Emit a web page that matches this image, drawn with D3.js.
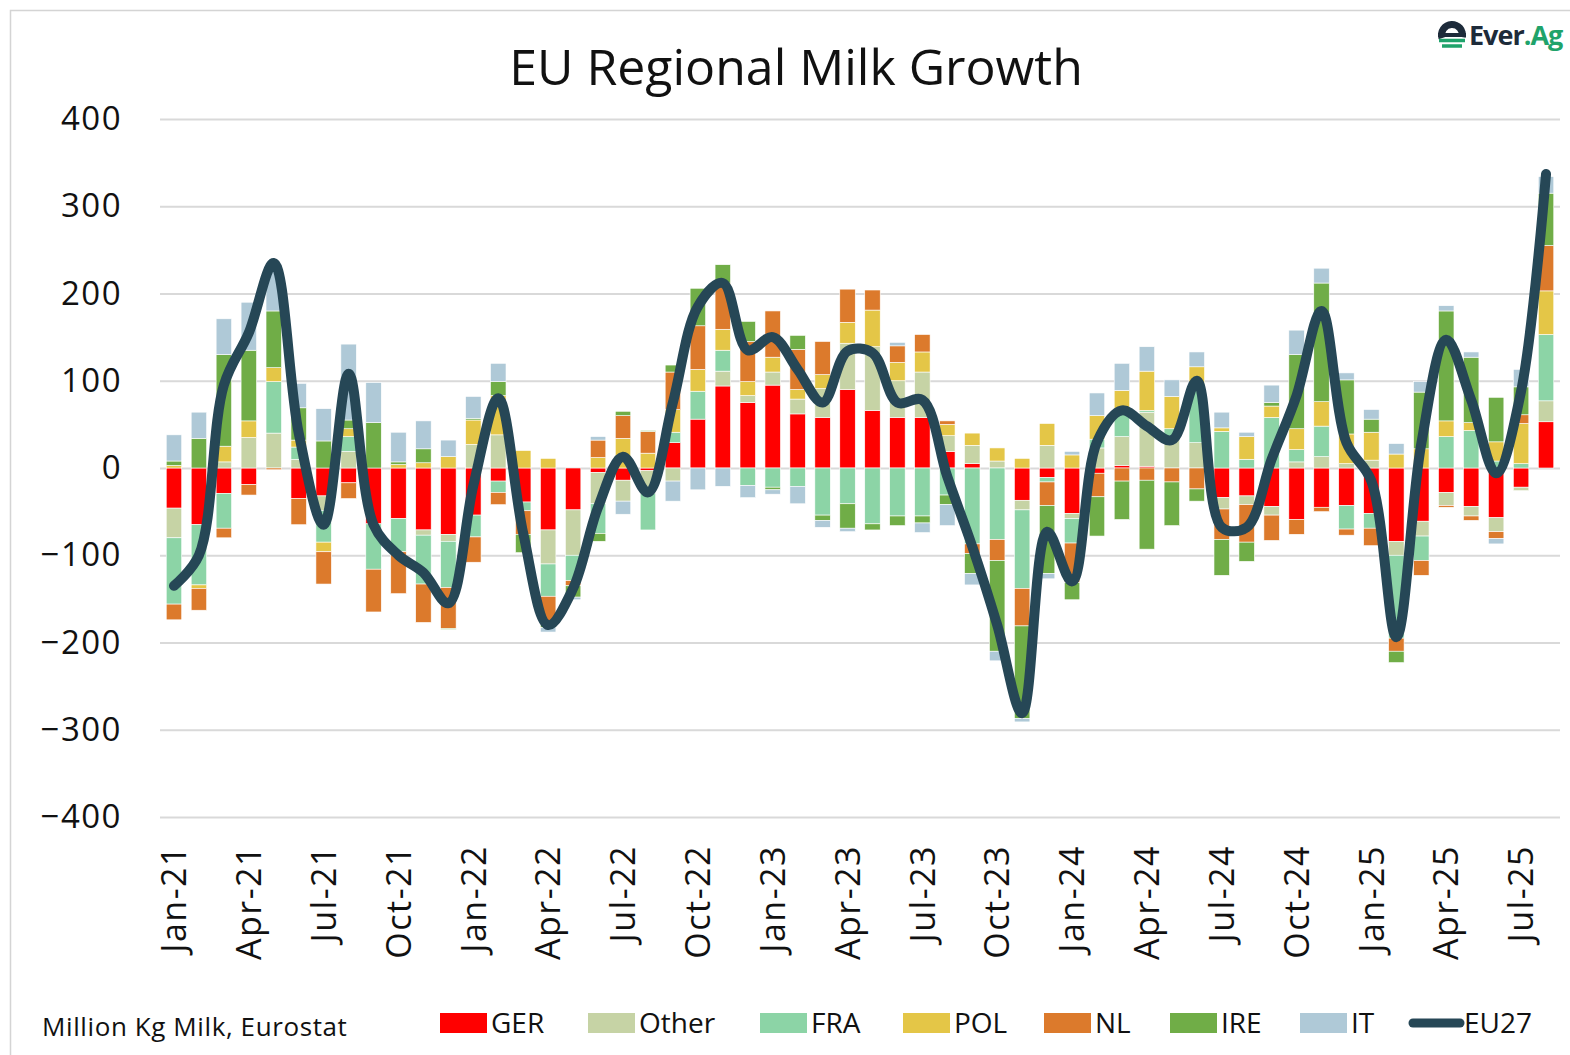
<!DOCTYPE html>
<html>

<head>
    <meta charset='utf-8'>
</head>
<style>
    body {
        margin: 0;
        background: #fff;
    }
    * {
        font-family: 'Open Sans', sans-serif;
    }
</style>

<body>
    <svg width="1570" height="1055"></svg>
    <script src="https://d3js.org/d3.v7.min.js"></script>
    <script>
        // months on the x axis
        var months = ["Jan-21", "Feb-21", "Mar-21", "Apr-21", "May-21", "Jun-21", "Jul-21", "Aug-21", "Sep-21", "Oct-21", "Nov-21", "Dec-21",
            "Jan-22", "Feb-22", "Mar-22", "Apr-22", "May-22", "Jun-22", "Jul-22", "Aug-22", "Sep-22", "Oct-22", "Nov-22", "Dec-22",
            "Jan-23", "Feb-23", "Mar-23", "Apr-23", "May-23", "Jun-23", "Jul-23", "Aug-23", "Sep-23", "Oct-23", "Nov-23", "Dec-23",
            "Jan-24", "Feb-24", "Mar-24", "Apr-24", "May-24", "Jun-24", "Jul-24", "Aug-24", "Sep-24", "Oct-24", "Nov-24", "Dec-24",
            "Jan-25", "Feb-25", "Mar-25", "Apr-25", "May-25", "Jun-25", "Jul-25", "Aug-25"
        ];
        var tickMonths = ["Jan-21", "Apr-21", "Jul-21", "Oct-21", "Jan-22", "Apr-22", "Jul-22", "Oct-22", "Jan-23", "Apr-23",
            "Jul-23", "Oct-23", "Jan-24", "Apr-24", "Jul-24", "Oct-24", "Jan-25", "Apr-25", "Jul-25"
        ];
        var yTicks = [-400, -300, -200, -100, 0, 100, 200, 300, 400];

        // yoy change per region, million kg
        var GER = [-46, -65, -29, -19, 0, -35, -32, -17, -64, -58, -71, -76,
            -54, -15, -39, -71, -48, -5, -14, -3, 29, 56, 94, 75,
            95, 62, 58, 90, 66, 58, 58, 19, 5, 0, -37, -11,
            -52, -6, 3, 2, 0, 0, -34, -32, -44, -59, -45, -43,
            -52, -84, -61, -28, -44, -57, -22, 53
        ];
        var Other = [-34, 0, 7, 35, 40, 10, -17, 19, 0, 0, -6, -8,
            27, 38, 0, -39, -52, -36, -24, -26, -15, 0, 17, 8,
            15, 17, 33, 53, 73, 42, 52, 18, 21, 8, -11, 26,
            -6, 23, 33, 62, 35, 29, -13, -10, -10, 7, 13, 5,
            9, -16, -17, -15, -11, -16, -4, 24
        ];
        var FRA = [-76, -69, -40, 0, 59, 14, -36, 17, -52, -38, -56, -53,
            -25, -13, -10, -37, -29, -34, 0, -42, 12, 32, 24, -20,
            -22, -21, -54, -41, -64, -55, -55, -31, -87, -82, -90, -5,
            -28, 10, 28, 2, 10, 68, 42, 10, 58, 14, 35, -27,
            -17, -95, -28, 36, 43, 8, 5, 76
        ];
        var POL = [3, -4, 18, 19, 16, 8, -11, 9, 0, 4, 6, 13,
            28, 45, 20, 11, 0, 12, 34, 17, 26, 25, 24, 16,
            17, 11, 16, 24, 42, 21, 23, 13, 14, 15, 11, 25,
            15, 27, 25, 45, 37, 19, 4, 26, 13, 24, 28, 34,
            32, 16, 22, 18, 9, 22, 46, 50
        ];
        var NL = [-18, -25, -11, -12, -2, -30, -37, -18, -49, -48, -44, -47,
            -29, -14, -27, -32, -6, 20, 26, 25, 43, 50, 53, 46,
            53, 46, 38, 38, 23, 19, 20, 4, -11, -24, -43, -27,
            -45, -27, -15, -14, -16, -24, -35, -43, -29, -17, -5, -7,
            -20, -15, -17, -2, -5, -8, 10, 52
        ];
        var IRE = [5, 34, 105, 81, 65, 37, 31, 10, 52, 3, 16, -1,
            2, 16, -21, -4, -13, -9, 5, 1, 8, 43, 21, 23,
            -3, 16, -6, -28, -7, -11, -8, -11, -23, -104, -106, -78,
            -20, -45, -44, -79, -50, -14, -41, -22, 4, 85, 136, 62,
            15, -13, 65, 126, 75, 51, 32, 60
        ];
        var IT = [30, 30, 41, 55, 52, 28, 37, 87, 46, 34, 32, 19,
            25, 21, 0, -5, -3, 4, -15, 0, -23, -25, -21, -14,
            -5, -20, -8, -4, 0, 4, -11, -24, -13, -11, -4, -6,
            4, 26, 31, 28, 19, 17, 18, 5, 20, 28, 17, 8,
            11, 12, 12, 6, 6, -6, 20, 19
        ];
        // EU27 total line
        var EU27 = [-135, -100, 95, 155, 235, 40, -65, 108, -65, -100, -120, -155,
            -20, 80, -75, -180, -138, -45, 13, -28, 75, 185, 212, 135,
            150, 113, 75, 134, 132, 75, 78, -10, -90, -180, -281, -73,
            -130, 30, 66, 48, 32, 100, -68, -68, 10, 83, 180, 29,
            -15, -194, 28, 147, 78, -6, 88, 337
        ];

        var seriesNames = ["GER", "Other", "FRA", "POL", "NL", "IRE", "IT"];
        var seriesVals = [GER, Other, FRA, POL, NL, IRE, IT];
        var colors = ["#ff0000", "#c6d3a5", "#8cd4a6", "#e4c647", "#dc7a2c", "#70ad47", "#afc9d7"];
        var lineColor = "#264756";

        var table = months.map(function(m, i) {
            var row = { month: m };
            seriesNames.forEach(function(s, j) {
                row[s] = seriesVals[j][i];
            });
            return row;
        });

        var svg = d3.select('svg');

        // frame
        svg.append('path')
            .attr('d', 'M10.5,1055 V10.5 H1570')
            .attr('fill', 'none')
            .attr('stroke', '#d4d4d4')
            .attr('stroke-width', 1.5);

        var x = d3.scaleBand()
            .domain(months)
            .range([161.5, 1558.5])
            .paddingInner(0.38)
            .paddingOuter(0.19);
        var y = d3.scaleLinear()
            .domain([-400, 400])
            .range([817, 119]);

        // y axis + gridlines
        var yAxis = svg.append('g')
            .attr('transform', 'translate(160,0)')
            .call(d3.axisLeft(y).tickValues(yTicks).tickSize(-1400).tickPadding(38).tickFormat(d3.format('d')));
        yAxis.select('.domain').remove();
        yAxis.selectAll('line').attr('stroke', '#d9d9d9').attr('stroke-width', 2);
        yAxis.selectAll('text')
            .attr('fill', '#111')
            .style('font-size', '33px')
            .style('letter-spacing', '1.5px');

        // stacked bars
        var stacked = d3.stack()
            .keys(seriesNames)
            .offset(d3.stackOffsetDiverging)(table);

        svg.append('g')
            .selectAll('g')
            .data(stacked)
            .enter().append('g')
            .attr('fill', function(d, i) {
                return colors[i];
            })
            .selectAll('rect')
            .data(function(d) {
                return d;
            })
            .enter().append('rect')
            .attr('x', function(d) {
                return x(d.data.month);
            })
            .attr('width', x.bandwidth())
            .attr('y', function(d) {
                return y(Math.max(d[0], d[1]));
            })
            .attr('height', function(d) {
                return Math.abs(y(d[0]) - y(d[1]));
            })
            .attr('stroke', '#fff')
            .attr('stroke-width', 0.6);

        // EU27 line
        var line = d3.line()
            .x(function(d, i) {
                return x(months[i]) + x.bandwidth() / 2;
            })
            .y(function(d) {
                return y(d);
            })
            .curve(d3.curveCatmullRom.alpha(0.5));

        svg.append('path')
            .datum(EU27)
            .attr('d', line)
            .attr('fill', 'none')
            .attr('stroke', lineColor)
            .attr('stroke-width', 10)
            .attr('stroke-linecap', 'round')
            .attr('stroke-linejoin', 'round');

        // x axis labels
        var xAxis = svg.append('g')
            .attr('transform', 'translate(0,817)')
            .call(d3.axisBottom(x).tickValues(tickMonths).tickSize(0));
        xAxis.select('.domain').remove();
        xAxis.selectAll('text')
            .attr('transform', 'rotate(-90)')
            .attr('x', -28)
            .attr('y', 0)
            .attr('dy', '0.36em')
            .attr('text-anchor', 'end')
            .attr('fill', '#111')
            .style('font-size', '34px')
            .style('letter-spacing', '1.5px');

        // title
        svg.append('text')
            .attr('x', 796)
            .attr('y', 85)
            .attr('text-anchor', 'middle')
            .attr('fill', '#111')
            .style('font-size', '50px')
            .style('font-weight', 500)
            .text('EU Regional Milk Growth');

        // source note
        svg.append('text')
            .attr('x', 42)
            .attr('y', 1036)
            .attr('fill', '#111')
            .style('font-size', '26px')
            .style('letter-spacing', '0.6px')
            .text('Million Kg Milk, Eurostat');

        // legend
        var legendX = [440, 588, 760, 903, 1044, 1170, 1300];
        var legend = svg.append('g');
        seriesNames.forEach(function(s, i) {
            legend.append('rect')
                .attr('x', legendX[i])
                .attr('y', 1013)
                .attr('width', 47)
                .attr('height', 20)
                .attr('fill', colors[i]);
            legend.append('text')
                .attr('x', legendX[i] + 51)
                .attr('y', 1033)
                .attr('fill', '#111')
                .style('font-size', '28px')
                .text(s);
        });
        legend.append('line')
            .attr('x1', 1413).attr('x2', 1460)
            .attr('y1', 1023).attr('y2', 1023)
            .attr('stroke', lineColor)
            .attr('stroke-width', 9)
            .attr('stroke-linecap', 'round');
        legend.append('text')
            .attr('x', 1464)
            .attr('y', 1033)
            .attr('fill', '#111')
            .style('font-size', '28px')
            .text('EU27');

        // logo
        var logo = svg.append('g').attr('transform', 'translate(1452,35)');
        logo.append('path')
            .attr('d', d3.arc()({ innerRadius: 7, outerRadius: 14, startAngle: -Math.PI / 2 - 0.3, endAngle: Math.PI / 2 + 0.2 }))
            .attr('fill', '#1d2b3a');
        logo.append('rect').attr('x', -14).attr('y', -2).attr('width', 28).attr('height', 4).attr('fill', '#1d2b3a');
        logo.append('path')
            .attr('d', 'M-13,5.5 H13 M-10,11 H10')
            .attr('stroke', '#1fa36b')
            .attr('stroke-width', 3.5);
        var logoText = svg.append('text')
            .attr('x', 1469)
            .attr('y', 45)
            .style('font-size', '27px')
            .style('font-weight', 700)
            .style('letter-spacing', '-1px');
        logoText.append('tspan').attr('fill', '#1d2b3a').text('Ever');
        logoText.append('tspan').attr('fill', '#1fa36b').text('.Ag');
    </script>
</body>

</html>
